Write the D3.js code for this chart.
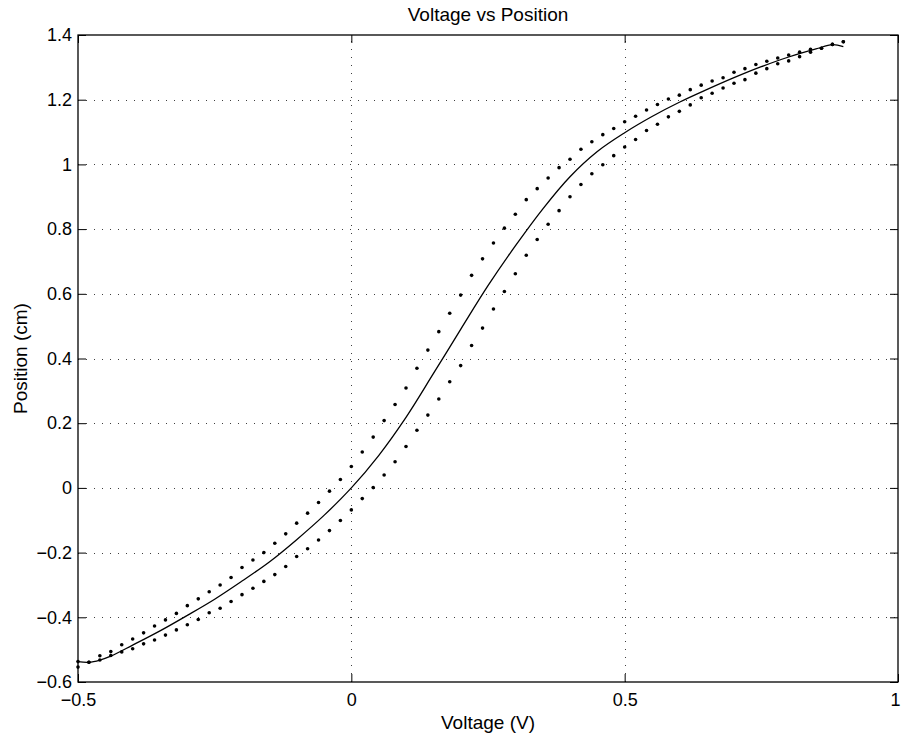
<!DOCTYPE html>
<html>
<head>
<meta charset="utf-8">
<script src="https://cdn.jsdelivr.net/npm/d3@7"></script>
<style>
  html, body { margin: 0; padding: 0; background: #fff; }
  svg { display: block; }
  text { font-family: "Liberation Sans", Arial, Helvetica, sans-serif; fill: #000; }
</style>
</head>
<body>
<svg id="chart" width="902" height="738"></svg>
<script>
// ---- Data ----
const voltage = [-0.50,-0.48,-0.46,-0.44,-0.42,-0.40,-0.38,-0.36,-0.34,-0.32,-0.30,-0.28,-0.26,-0.24,-0.22,-0.20,-0.18,-0.16,-0.14,-0.12,-0.10,-0.08,-0.06,-0.04,-0.02,
  0.00,0.02,0.04,0.06,0.08,0.10,0.12,0.14,0.16,0.18,0.20,0.22,0.24,0.26,0.28,0.30,0.32,0.34,0.36,0.38,0.40,0.42,0.44,0.46,0.48,
  0.50,0.52,0.54,0.56,0.58,0.60,0.62,0.64,0.66,0.68,0.70,0.72,0.74,0.76,0.78,0.80,0.82,0.84,0.86,0.88,0.90];

const upperBranch = [-0.537,-0.539,-0.519,-0.506,-0.485,-0.467,-0.448,-0.427,-0.408,-0.388,-0.364,-0.343,-0.321,-0.300,-0.277,-0.246,-0.223,-0.200,-0.171,-0.142,-0.109,-0.078,-0.045,-0.010,0.026,
  0.066,0.111,0.157,0.208,0.258,0.309,0.370,0.426,0.483,0.540,0.596,0.657,0.708,0.757,0.803,0.846,0.891,0.925,0.958,0.990,1.016,1.047,1.070,1.092,1.111,
  1.132,1.149,1.168,1.185,1.202,1.214,1.231,1.245,1.258,1.268,1.285,1.296,1.309,1.319,1.329,1.338,1.347,1.356,1.359,1.371,1.379];

const lowerBranch = [-0.554,-0.539,-0.532,-0.518,-0.507,-0.497,-0.482,-0.470,-0.455,-0.439,-0.423,-0.407,-0.386,-0.372,-0.351,-0.330,-0.310,-0.289,-0.268,-0.243,-0.212,-0.188,-0.161,-0.132,-0.101,
  -0.068,-0.033,0.001,0.040,0.081,0.128,0.178,0.225,0.275,0.328,0.378,0.440,0.494,0.553,0.607,0.662,0.719,0.768,0.815,0.857,0.900,0.938,0.971,0.999,1.027,
  1.054,1.077,1.105,1.124,1.147,1.164,1.184,1.206,1.220,1.236,1.251,1.262,1.282,1.296,1.311,1.320,1.333,1.347,1.359,1.371,1.379];

const fitVoltage  = [-0.50,-0.48,-0.46,-0.44,-0.40,-0.35,-0.30,-0.25,-0.20,-0.15,-0.10,-0.05,0.00,0.05,0.10,0.15,0.20,0.25,0.30,0.35,0.40,0.45,0.50,0.55,0.60,0.65,0.70,0.75,0.80,0.85,0.88,0.90];
const fitPosition = [-0.537,-0.539,-0.532,-0.520,-0.486,-0.442,-0.394,-0.344,-0.288,-0.229,-0.160,-0.085,0.000,0.100,0.218,0.353,0.490,0.625,0.748,0.862,0.962,1.040,1.098,1.148,1.192,1.231,1.268,1.302,1.332,1.357,1.370,1.364];

const xTicks = [-0.5, 0, 0.5, 1];
const xTickLabels = ["\u22120.5", "0", "0.5", "1"];
const yTicks = [-0.6, -0.4, -0.2, 0, 0.2, 0.4, 0.6, 0.8, 1, 1.2, 1.4];
const yTickLabels = ["\u22120.6", "\u22120.4", "\u22120.2", "0", "0.2", "0.4", "0.6", "0.8", "1", "1.2", "1.4"];

const titleText = "Voltage vs Position";
const xLabelText = "Voltage (V)";
const yLabelText = "Position (cm)";

// ---- Layout ----
const svg = d3.select("#chart");
const L = 78, R = 898, T = 35, B = 682;
const x = d3.scaleLinear().domain([-0.5, 1]).range([L, R]);
const y = d3.scaleLinear().domain([-0.6, 1.4]).range([B, T]);

svg.append("rect").attr("width", 902).attr("height", 738).attr("fill", "#fff");

// grid
const grid = svg.append("g").attr("stroke", "#000").attr("stroke-width", 1)
  .attr("stroke-dasharray", "1,7").attr("opacity", 0.75);
grid.selectAll("line.h").data(yTicks.filter(v => v > -0.6 && v < 1.4)).join("line")
  .attr("x1", L).attr("x2", R)
  .attr("y1", d => Math.round(y(d)) + 0.5).attr("y2", d => Math.round(y(d)) + 0.5);
grid.selectAll("line.v").data(xTicks.filter(v => v > -0.5 && v < 1)).join("line")
  .attr("y1", B).attr("y2", T)
  .attr("x1", d => Math.round(x(d)) + 0.5).attr("x2", d => Math.round(x(d)) + 0.5);

// axes
const fmtX = d => xTickLabels[xTicks.indexOf(d)];
const fmtY = d => yTickLabels[yTicks.indexOf(d)];
const tickLen = 8;

function styleAxis(g, showText) {
  g.select(".domain").remove();
  g.selectAll("line").attr("stroke", "#000").attr("stroke-width", 1);
  g.selectAll("text").attr("font-size", "18px").attr("fill", "#000")
    .style("font-family", '"Liberation Sans", Arial, sans-serif');
  if (!showText) g.selectAll("text").remove();
}

svg.append("g").attr("transform", `translate(0,${B})`)
  .call(d3.axisBottom(x).tickValues(xTicks).tickFormat(fmtX).tickSize(-tickLen).tickPadding(11))
  .call(g => styleAxis(g, true))
  .call(g => g.selectAll(".tick").filter(d => d === 1).select("text").attr("dx", "-3"));
svg.append("g").attr("transform", `translate(0,${T})`)
  .call(d3.axisTop(x).tickValues(xTicks).tickFormat(fmtX).tickSize(-tickLen))
  .call(g => styleAxis(g, false));
svg.append("g").attr("transform", `translate(${L},0)`)
  .call(d3.axisLeft(y).tickValues(yTicks).tickFormat(fmtY).tickSize(-tickLen).tickPadding(6))
  .call(g => styleAxis(g, true));
svg.append("g").attr("transform", `translate(${R},0)`)
  .call(d3.axisRight(y).tickValues(yTicks).tickFormat(fmtY).tickSize(-tickLen))
  .call(g => styleAxis(g, false));

// box
svg.append("rect").attr("x", L).attr("y", T).attr("width", R - L).attr("height", B - T)
  .attr("fill", "none").attr("stroke", "#000").attr("stroke-width", 1.3);

// fit line
const fitData = fitVoltage.map((v, i) => [v, fitPosition[i]]);
svg.append("path").datum(fitData)
  .attr("fill", "none").attr("stroke", "#000").attr("stroke-width", 1.3)
  .attr("d", d3.line().x(d => x(d[0])).y(d => y(d[1])).curve(d3.curveCatmullRom.alpha(0.5)));

// dots
const dots = [];
voltage.forEach((v, i) => { dots.push([v, upperBranch[i]]); dots.push([v, lowerBranch[i]]); });
svg.append("g").selectAll("circle").data(dots).join("circle")
  .attr("cx", d => x(d[0])).attr("cy", d => y(d[1])).attr("r", 1.8).attr("fill", "#000");

// labels
svg.append("text").attr("x", (L + R) / 2).attr("y", 21).attr("text-anchor", "middle")
  .attr("font-size", "19px").text(titleText);
svg.append("text").attr("x", (L + R) / 2).attr("y", 729).attr("text-anchor", "middle")
  .attr("font-size", "19px").text(xLabelText);
svg.append("text").attr("transform", `translate(27,${(T + B) / 2}) rotate(-90)`)
  .attr("text-anchor", "middle").attr("font-size", "19px").text(yLabelText);
</script>
</body>
</html>
